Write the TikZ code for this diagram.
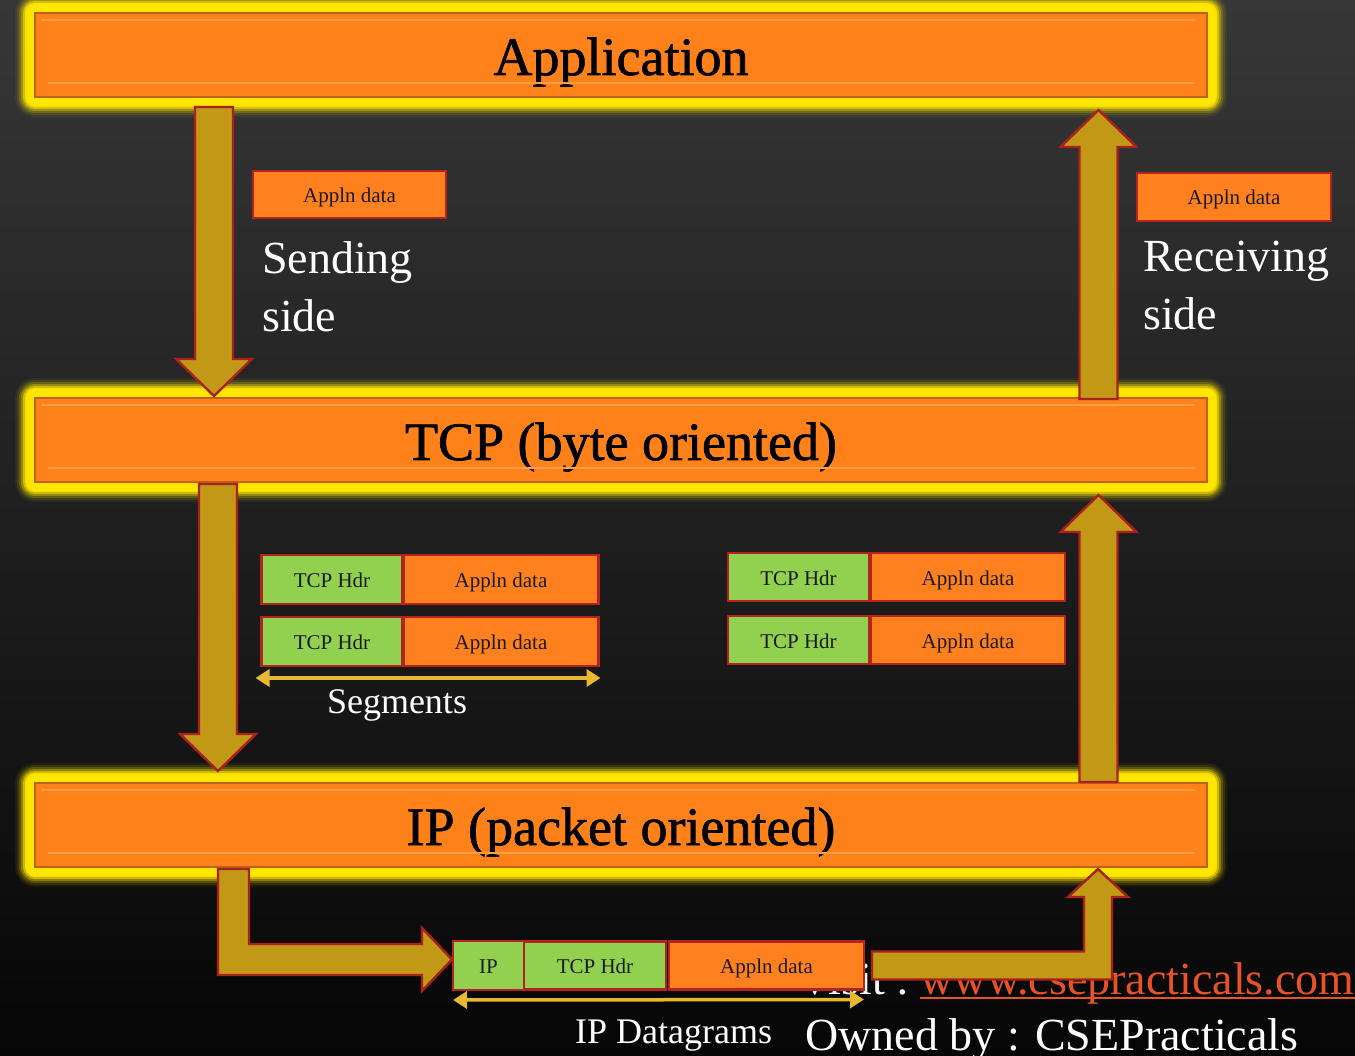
\documentclass[tikz,border=0pt]{standalone}
\usepackage{fontspec}
\setmainfont{Liberation Serif}
\newfontfamily\barfont[FakeBold=1.3]{Liberation Serif}
\usetikzlibrary{arrows.meta,calc}

\definecolor{bgtop}{RGB}{55,55,55}
\definecolor{bgmid}{RGB}{31,31,31}
\definecolor{bgbot}{RGB}{6,6,6}
\definecolor{glow}{RGB}{255,230,0}
\definecolor{barorange}{RGB}{254,129,25}
\definecolor{baredge}{RGB}{190,98,22}
\definecolor{barhl}{RGB}{255,158,72}
\definecolor{boxorange}{RGB}{255,128,30}
\definecolor{boxgreen}{RGB}{146,208,80}
\definecolor{boxred}{RGB}{180,36,28}
\definecolor{arrowfill}{RGB}{193,153,22}
\definecolor{arrowedge}{RGB}{170,32,28}
\definecolor{spanyellow}{RGB}{232,184,48}
\definecolor{urlc}{RGB}{232,82,40}

% vertical block arrow from tail coordinate #1 to tip coordinate #2
\newcommand{\vblock}[2]{%
  \draw[blockarrow] let \p1=(#1), \p2=(#2), \n1={ifthenelse(\y2>\y1,1,-1)} in
    (\x1-19pt,\y1) -- (\x1+19pt,\y1) -- (\x1+19pt,\y2-\n1*37pt) --
    (\x1+38pt,\y2-\n1*37pt) -- (\x2,\y2) -- (\x1-38pt,\y2-\n1*37pt) --
    (\x1-19pt,\y2-\n1*37pt) -- cycle;}

\begin{document}
\begin{tikzpicture}[x=1pt,y=-1pt,
  layer/.style={draw=baredge, line width=1.2pt, fill=barorange,
    minimum width=1172pt, minimum height=84pt, inner sep=0pt, outer sep=0pt,
    text height=54pt, text depth=14pt,
    font=\barfont\fontsize{54}{60}\selectfont, text=black,
    preaction={draw=glow, line width=40pt, opacity=0.06, line join=round},
    preaction={draw=glow, line width=36pt, opacity=0.10, line join=round},
    preaction={draw=glow, line width=32pt, opacity=0.18, line join=round},
    preaction={draw=glow, line width=28pt, opacity=0.32, line join=round},
    preaction={draw=glow, line width=24pt, opacity=0.55, line join=round},
    preaction={draw=glow, line width=20pt, opacity=0.85, line join=round},
    preaction={draw=glow, line width=17pt, line join=round}},
  hl/.style={draw=barhl, line width=1.5pt},
  pkt/.style={draw=boxred, line width=2.6pt, inner sep=0pt, outer sep=0pt,
    minimum height=48pt, text height=20pt, text depth=4pt,
    font=\fontsize{21}{24}\selectfont, text=black!90},
  data/.style={pkt, fill=boxorange},
  hdr/.style={pkt, fill=boxgreen},
  blockarrow/.style={fill=arrowfill, draw=arrowedge, line width=2.4pt, line join=miter},
  span/.style={draw=spanyellow, line width=3.5pt,
    {Triangle[length=14pt,width=17pt]}-{Triangle[length=14pt,width=17pt]}},
  side/.style={text=white, font=\fontsize{46}{58}\selectfont, align=left, inner sep=0pt},
  caption/.style={text=white, font=\fontsize{36}{40}\selectfont, inner sep=0pt},
  credit/.style={text=white, font=\fontsize{46}{52}\selectfont, inner sep=0pt}]

% background
\shade[top color=bgtop, middle color=bgmid, bottom color=bgbot]
  (0,0) rectangle (1355,1056);
\useasboundingbox (0,0) rectangle (1355,1056);

% footer credits (partly hidden by the datagram row)
\node[credit, anchor=base west] (visit) at (798,994) {Visit :};
\node[credit, text=urlc, anchor=base west] (url) at ([xshift=11pt]visit.base east) {www.csepracticals.com};
\draw[urlc, line width=2.2pt] ([yshift=-4pt]url.base west) -- ([yshift=-4pt]url.base east);
\node[credit, anchor=base west] (owner) at (805,1050) {Owned by : CSEPracticals};

% protocol layers
\node[layer] (app) at (621,55) {Application};
\node[layer] (tcp) at (621,440) {TCP (byte oriented)};
\node[layer] (ip)  at (621,825) {IP (packet oriented)};
\foreach \l in {app,tcp,ip}{
  \draw[hl] ([xshift=6pt,yshift=-7pt]\l.north west) -- ([xshift=-12pt,yshift=-7pt]\l.north east);
  \draw[hl] ([xshift=13pt,yshift=14pt]\l.south west) -- ([xshift=-12pt,yshift=14pt]\l.south east);
}

% application data on both sides
\node[data, minimum width=193pt, minimum height=47pt] (sdata) at (349.5,194.5) {Appln data};
\node[data, minimum width=194pt] (rdata) at (1234,197) {Appln data};

% TCP segments, sending side
\node[hdr, minimum width=141pt, minimum height=49pt] (s1h) at (332,579.5) {TCP Hdr};
\node[data, minimum width=195pt, minimum height=49pt, anchor=west] (s1d) at ([xshift=1pt]s1h.east) {Appln data};
\node[hdr, minimum width=141pt, minimum height=49pt] (s2h) at (332,641.5) {TCP Hdr};
\node[data, minimum width=195pt, minimum height=49pt, anchor=west] (s2d) at ([xshift=1pt]s2h.east) {Appln data};
\draw[span] ([xshift=-6pt,yshift=-12pt]s2h.south west) -- ([xshift=2pt,yshift=-12pt]s2d.south east);
\node[caption, anchor=base] (seglbl) at (397,713) {Segments};

% TCP segments, receiving side
\node[hdr, minimum width=141pt] (r1h) at (798.5,577) {TCP Hdr};
\node[data, minimum width=194pt, anchor=west] (r1d) at ([xshift=2pt]r1h.east) {Appln data};
\node[hdr, minimum width=141pt] (r2h) at (798.5,640) {TCP Hdr};
\node[data, minimum width=194pt, anchor=west] (r2d) at ([xshift=2pt]r2h.east) {Appln data};

% IP datagram
\node[hdr, minimum width=71pt, minimum height=49pt] (ipb) at (488.5,965.5) {IP};
\node[hdr, minimum width=142pt, anchor=west] (ipt) at (ipb.east) {TCP Hdr};
\node[data, minimum width=195pt, anchor=west] (ipd) at ([xshift=3pt]ipt.east) {Appln data};
\draw[span] ([yshift=-10pt]ipb.south west) -- ([yshift=-10pt]ipd.south east);
\node[caption, anchor=base west] (dglbl) at (575,1043) {IP Datagrams};

% side labels
\node[side, anchor=north west] (sendlbl) at (262,241) {Sending\\side};
\node[side, anchor=north west] (recvlbl) at (1143,241) {Receiving\\side};

% flow arrows between layers
\coordinate (a1t) at ([xshift=179pt,yshift=-10pt]app.south west);
\coordinate (a1h) at ([xshift=179pt,yshift=2pt]tcp.north west);
\coordinate (a2t) at ([xshift=183pt,yshift=-2pt]tcp.south west);
\coordinate (a2h) at ([xshift=183pt,yshift=12pt]ip.north west);
\coordinate (a3t) at ([xshift=-108.5pt,yshift=-1pt]tcp.north east);
\coordinate (a3h) at ([xshift=-108.5pt,yshift=-13pt]app.south east);
\coordinate (a4t) at ([xshift=-108.5pt,yshift=1pt]ip.north east);
\coordinate (a4h) at ([xshift=-108.5pt,yshift=-13pt]tcp.south east);
\vblock{a1t}{a1h}
\vblock{a2t}{a2h}
\vblock{a3t}{a3h}
\vblock{a4t}{a4h}

% IP layer to the wire
\coordinate (b1t) at ([xshift=198.5pt,yshift=-2pt]ip.south west);
\coordinate (b1h) at ([xshift=-1pt,yshift=6pt]ipb.west);
\draw[blockarrow] let \p1=(b1t), \p2=(b1h) in
  (\x1-15.5pt,\y1) -- (\x1+15.5pt,\y1) -- (\x1+15.5pt,\y2+15.5pt) --
  (\x2-30pt,\y2+15.5pt) -- (\x2-30pt,\y2+31.5pt) -- (\x2,\y2) --
  (\x2-30pt,\y2-31.5pt) -- (\x2-30pt,\y2-15.5pt) -- (\x1-15.5pt,\y2-15.5pt) -- cycle;

% wire back up to the IP layer
\coordinate (b2t) at ([xshift=8pt]ipd.east);
\coordinate (b2h) at ([xshift=-109pt,yshift=-2pt]ip.south east);
\draw[blockarrow] let \p1=(b2t), \p2=(b2h) in
  (\x1,\y1+14pt) -- (\x2-14pt,\y1+14pt) -- (\x2-14pt,\y2-28pt) --
  (\x2-30pt,\y2-28pt) -- (\x2,\y2) -- (\x2+30pt,\y2-28pt) --
  (\x2+14pt,\y2-28pt) -- (\x2+14pt,\y1-14pt) -- (\x1,\y1-14pt) -- cycle;

\end{tikzpicture}
\end{document}
